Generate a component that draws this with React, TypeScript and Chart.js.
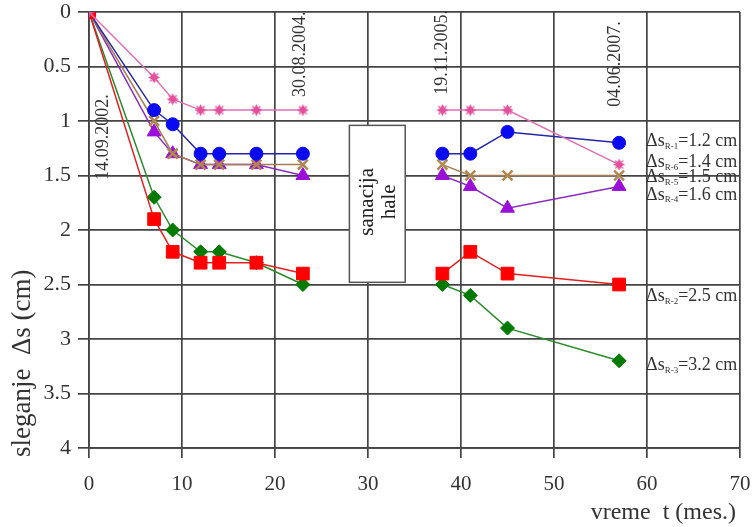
import React, { useEffect, useRef } from "react";
import { Chart, registerables } from "chart.js";
Chart.register(...registerables);

// ---- data ----
const months = [0, 7, 9, 12, 14, 18, 23, 38, 41, 45, 57];
const sR1 = [0, 0.9, 1.03, 1.3, 1.3, 1.3, 1.3, 1.3, 1.3, 1.1, 1.2];
const sR6 = [0, 0.6, 0.8, 0.9, 0.9, 0.9, 0.9, 0.9, 0.9, 0.9, 1.4];
const sR5 = [0, 1.0, 1.3, 1.4, 1.4, 1.4, 1.4, 1.4, 1.5, 1.5, 1.5];
const sR4 = [0, 1.1, 1.3, 1.4, 1.4, 1.4, 1.5, 1.5, 1.6, 1.8, 1.6];
const sR2 = [0, 1.9, 2.2, 2.3, 2.3, 2.3, 2.4, 2.4, 2.2, 2.4, 2.5];
const sR3 = [0, 1.7, 2.0, 2.2, 2.2, 2.3, 2.5, 2.5, 2.6, 2.9, 3.2];
const dateLabels = ["14.09.2002.", "30.08.2004.", "19.11.2005.", "04.06.2007."];
const finalNames = ["R-1", "R-6", "R-5", "R-4", "R-2", "R-3"];
const finalValues = ["1.2", "1.4", "1.5", "1.6", "2.5", "3.2"];
const boxLines = ["sanacija", "hale"];
const xTitle = "vreme  t (mes.)";
const yTitle = "sleganje  Δs (cm)";

const FONT = '"Liberation Serif", "Times New Roman", serif';
const GRID = "#444";
const TXT = "#333";

// annotation placement (data coordinates)
const datePos = [
  [1.5, 1.54],
  [22.7, 0.78],
  [38, 0.76],
  [56.6, 0.87],
];
const finalPos = [1.19, 1.38, 1.52, 1.68, 2.61, 3.24];
const boxRange = { x0: 28, x1: 34, y0: 1.04, y1: 2.48 };

function starMarker(color: string) {
  const c = document.createElement("canvas");
  c.width = 15;
  c.height = 15;
  const g = c.getContext("2d")!;
  const cx = 7.5, cy = 7.5, R = 6, r = 3;
  g.fillStyle = color;
  g.beginPath();
  for (let i = 0; i < 8; i++) {
    const a = (i * Math.PI) / 4 - Math.PI / 2;
    const rr = i % 2 === 0 ? R : r;
    const px = cx + Math.cos(a) * rr, py = cy + Math.sin(a) * rr;
    if (i === 0) g.moveTo(px, py);
    else g.lineTo(px, py);
  }
  g.closePath();
  g.fill();
  g.strokeStyle = color;
  g.lineWidth = 1.2;
  g.beginPath();
  g.moveTo(cx - 4, cy - 4); g.lineTo(cx + 4, cy + 4);
  g.moveTo(cx + 4, cy - 4); g.lineTo(cx - 4, cy + 4);
  g.stroke();
  return c;
}

const annotPlugin = {
  id: "annot",
  beforeDatasetsDraw(chart: any) {
    const { ctx, scales } = chart;
    const x = scales.x, y = scales.y;
    const bx0 = x.getPixelForValue(boxRange.x0), bx1 = x.getPixelForValue(boxRange.x1);
    const by0 = y.getPixelForValue(boxRange.y0), by1 = y.getPixelForValue(boxRange.y1);
    ctx.save();
    ctx.fillStyle = "#fff";
    ctx.fillRect(bx0, by0, bx1 - bx0, by1 - by0);
    ctx.strokeStyle = "#555";
    ctx.lineWidth = 1.5;
    ctx.strokeRect(bx0, by0, bx1 - bx0, by1 - by0);
    ctx.translate((bx0 + bx1) / 2, (by0 + by1) / 2);
    ctx.rotate(-Math.PI / 2);
    ctx.fillStyle = "#222";
    ctx.font = `21px ${FONT}`;
    ctx.textAlign = "center";
    ctx.textBaseline = "middle";
    ctx.fillText(boxLines[0], 2, -10);
    ctx.fillText(boxLines[1], 2, 12);
    ctx.restore();
  },
  afterDraw(chart: any) {
    const { ctx, scales, chartArea } = chart;
    const x = scales.x, y = scales.y;
    ctx.save();
    // dates
    ctx.fillStyle = TXT;
    ctx.font = `18px ${FONT}`;
    ctx.textAlign = "left";
    ctx.textBaseline = "middle";
    dateLabels.forEach((t, i) => {
      ctx.save();
      ctx.translate(x.getPixelForValue(datePos[i][0]), y.getPixelForValue(datePos[i][1]));
      ctx.rotate(-Math.PI / 2);
      ctx.fillText(t, 0, 0);
      ctx.restore();
    });
    // final settlement labels
    finalNames.forEach((n, i) => {
      let px = x.getPixelForValue(59.9);
      const py = y.getPixelForValue(finalPos[i]);
      ctx.font = `18px ${FONT}`;
      ctx.fillText("Δs", px, py);
      px += ctx.measureText("Δs").width;
      ctx.font = `9px ${FONT}`;
      ctx.fillText(n, px, py + 5);
      px += ctx.measureText(n).width;
      ctx.font = `18px ${FONT}`;
      ctx.fillText("=" + finalValues[i] + " cm", px, py);
    });
    // axis titles
    ctx.font = `24px ${FONT}`;
    ctx.textAlign = "right";
    ctx.fillText(xTitle, chartArea.right - 4, chartArea.bottom + 65);
    ctx.save();
    ctx.translate(chartArea.left - 66, chartArea.bottom + 9);
    ctx.rotate(-Math.PI / 2);
    ctx.font = `27px ${FONT}`;
    ctx.textAlign = "left";
    ctx.fillText(yTitle, 0, 0);
    ctx.restore();
    ctx.restore();
  },
};

function makeDataset(label: string, values: number[], line: string, marker: any, style: any, radius: number, bw = 1) {
  return {
    label,
    data: months.map((m, i) => ({ x: m, y: values[i] })),
    borderColor: line,
    backgroundColor: marker,
    pointBackgroundColor: marker,
    pointBorderColor: marker,
    pointBorderWidth: bw,
    pointStyle: style,
    pointRadius: radius,
    borderWidth: 1.5,
    showLine: true,
    fill: false,
    tension: 0,
    segment: {
      borderColor: (c: any) =>
        c.p0.parsed.x < 30 && c.p1.parsed.x > 30 ? "rgba(0,0,0,0)" : undefined,
    },
  };
}

export default function App() {
  const ref = useRef<HTMLCanvasElement>(null);
  useEffect(() => {
    document.body.style.margin = "0";
    const chart = new Chart(ref.current!, {
      type: "scatter",
      data: {
        datasets: [
          makeDataset("R-6", sR6, "#e070b0", "#e4509c", starMarker("#e4509c"), 7),
          makeDataset("R-2", sR2, "#e02020", "#ff0000", "rect", 9),
          makeDataset("R-1", sR1, "#2424a8", "#0a0af0", "circle", 6.5),
          makeDataset("R-5", sR5, "#a57d55", "#b0884f", "crossRot", 7, 2.5),
          makeDataset("R-4", sR4, "#8a2bbf", "#9a10d8", "triangle", 8),
          makeDataset("R-3", sR3, "#2a8a2a", "#007a00", "rectRot", 7),
        ] as any,
      },
      options: {
        animation: false,
        responsive: false,
        devicePixelRatio: 1,
        layout: { padding: { top: 12, right: 12, left: 0, bottom: 0 } },
        plugins: { legend: { display: false }, tooltip: { enabled: false } },
        scales: {
          x: {
            type: "linear",
            min: 0,
            max: 70,
            ticks: { stepSize: 10, font: { family: FONT, size: 21 }, color: TXT, padding: 14 },
            grid: { color: GRID, lineWidth: 1.7, tickLength: 10, tickColor: GRID },
            border: { color: GRID, width: 1.7 },
            afterFit: (s: any) => {
              s.height = 79;
              s.paddingLeft = 0;
              s.paddingRight = 0;
            },
          },
          y: {
            type: "linear",
            reverse: true,
            min: 0,
            max: 4,
            ticks: {
              stepSize: 0.5,
              font: { family: FONT, size: 22 },
              color: TXT,
              padding: 7,
              callback: (v: any) => String(Number(v)),
            },
            grid: { color: GRID, lineWidth: 1.7, tickLength: 11, tickColor: GRID },
            border: { color: GRID, width: 1.7 },
            afterFit: (s: any) => {
              s.width = 89;
              s.paddingTop = 0;
              s.paddingBottom = 0;
            },
          },
        },
      } as any,
      plugins: [annotPlugin],
    });
    return () => chart.destroy();
  }, []);
  return (
    <div style={{ width: 752, height: 527, background: "#fff" }}>
      <canvas ref={ref} width={752} height={527} style={{ display: "block", width: 752, height: 527 }} />
    </div>
  );
}
